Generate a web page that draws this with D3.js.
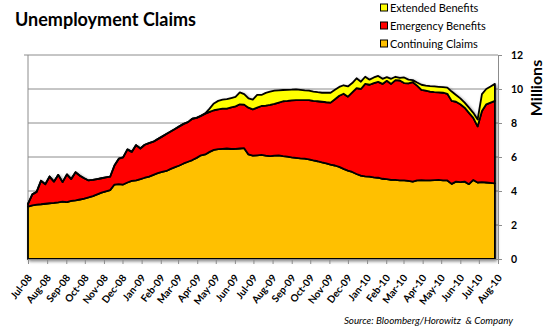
<!DOCTYPE html>
<html>
<head>
<meta charset="utf-8">
<script src="https://cdn.jsdelivr.net/npm/d3@7"></script>
<style>
  html, body { margin: 0; padding: 0; background: #fff; }
  svg { display: block; }
</style>
</head>
<body>
<svg id="chart" width="549" height="336"></svg>
<script>
// ---- Data (millions, weekly from Jul-2008) ----
const startDate = "2008-07-01";
const monthLabels = ["Jul-08","Aug-08","Sep-08","Oct-08","Nov-08","Dec-08","Jan-09","Feb-09","Mar-09","Apr-09","May-09","Jun-09","Jul-09","Aug-09","Sep-09","Oct-09","Nov-09","Dec-09","Jan-10","Feb-10","Mar-10","Apr-10","May-10","Jun-10","Jul-10","Aug-10"];
const yTicks = [0, 2, 4, 6, 8, 10, 12];
const seriesNames = ["Continuing Claims", "Emergency Benefits", "Extended Benefits"];
const seriesColors = ["#FFC000", "#FF0000", "#FFFF00"];

const continuing = [3.08,3.15,3.2,3.22,3.25,3.28,3.3,3.33,3.38,3.35,3.42,3.45,3.5,3.55,3.62,3.7,3.8,3.9,3.98,4.05,
  4.38,4.4,4.38,4.5,4.6,4.62,4.7,4.78,4.85,4.95,5.05,5.12,5.18,5.3,5.4,5.5,5.62,5.72,5.82,5.95,
  6.1,6.15,6.3,6.42,6.46,6.48,6.5,6.47,6.48,6.5,6.52,6.15,6.08,6.1,6.12,6.08,6.05,6.08,6.1,6.05,
  6.02,5.98,5.95,5.92,5.9,5.86,5.8,5.75,5.68,5.62,5.55,5.5,5.42,5.3,5.2,5.12,5.0,4.9,4.86,4.84,
  4.8,4.78,4.72,4.7,4.66,4.65,4.63,4.62,4.6,4.55,4.62,4.64,4.63,4.62,4.64,4.65,4.63,4.62,4.42,4.55,
  4.52,4.55,4.4,4.65,4.5,4.52,4.5,4.48,4.45];

const emergency = [0.16,0.65,0.75,1.38,1.15,1.57,1.25,1.62,1.14,1.63,1.28,1.65,1.4,1.2,1.0,0.95,0.9,0.85,0.82,0.79,
  1.12,1.5,1.6,1.95,1.7,2.08,1.8,1.94,1.97,1.95,2.0,2.08,2.17,2.2,2.25,2.3,2.33,2.33,2.43,2.35,
  2.32,2.4,2.35,2.33,2.34,2.37,2.35,2.45,2.5,2.6,2.56,2.75,2.72,2.8,2.88,2.94,3.01,3.04,3.1,3.23,
  3.28,3.35,3.4,3.43,3.45,3.49,3.5,3.53,3.57,3.6,3.65,3.9,4.18,4.42,4.35,4.68,5.05,5.1,5.44,5.41,
  5.55,5.64,5.58,5.78,5.64,5.87,5.87,5.73,5.73,5.85,5.58,5.31,5.27,5.23,5.18,5.15,5.15,5.1,4.88,4.7,
  4.58,4.35,4.2,3.65,3.3,4.18,4.6,4.72,4.85];

const extended = [0,0,0,0,0,0,0,0,0,0,0,0,0,0,0,0,0,0,0,0,
  0,0,0,0,0,0,0,0,0,0,0,0,0,0,0,0,0,0,0,0,
  0,0.02,0.2,0.4,0.5,0.52,0.55,0.55,0.55,0.7,0.62,0.55,0.58,0.75,0.65,0.75,0.78,0.78,0.72,0.66,
  0.65,0.63,0.63,0.6,0.57,0.55,0.55,0.53,0.53,0.56,0.58,0.55,0.52,0.5,0.6,0.55,0.58,0.43,0.42,0.3,
  0.33,0.35,0.3,0.22,0.3,0.2,0.15,0.33,0.22,0.12,0.18,0.3,0.3,0.32,0.33,0.33,0.33,0.36,0.55,0.4,
  0.35,0.3,0.3,0.3,0.4,1.0,0.9,0.95,1.0];

// ---- Build table ----
const parse = d3.timeParse("%Y-%m-%d");
const start = parse(startDate);
const rows = continuing.map((c, i) => ({
  date: d3.timeDay.offset(start, 7 * i),
  c: c, e: emergency[i], x: extended[i]
}));

const svg = d3.select("#chart");
const font = "Lato, 'Open Sans', sans-serif";

const plot = { left: 28, right: 498, top: 55, bottom: 259 };
const x = d3.scaleTime()
  .domain([parse("2008-07-01"), parse("2010-08-01")])
  .range([plot.left, plot.right]);
const y = d3.scaleLinear().domain([0, 12]).range([plot.bottom, plot.top]);

// defs: shadow
const defs = svg.append("defs");
const f = defs.append("filter").attr("id", "shadow")
  .attr("x", "-5%").attr("y", "-10%").attr("width", "110%").attr("height", "120%");
f.append("feDropShadow").attr("dx", 1.5).attr("dy", 1.5).attr("stdDeviation", 1.8)
  .attr("flood-color", "#000").attr("flood-opacity", 0.45);

// gridlines
svg.append("g").selectAll("line").data(yTicks.filter(t => t > 0)).join("line")
  .attr("x1", plot.left).attr("x2", plot.right)
  .attr("y1", d => y(d)).attr("y2", d => y(d))
  .attr("stroke", "#8c8c8c").attr("stroke-width", 1);

// left border
svg.append("line").attr("x1", plot.left).attr("x2", plot.left)
  .attr("y1", plot.top).attr("y2", plot.bottom)
  .attr("stroke", "#8c8c8c").attr("stroke-width", 1);
svg.append("line").attr("x1", plot.left - 4).attr("x2", plot.left)
  .attr("y1", plot.top).attr("y2", plot.top)
  .attr("stroke", "#8c8c8c").attr("stroke-width", 1);

// stack
const stack = d3.stack().keys(["c", "e", "x"]);
const layers = stack(rows);
const area = d3.area()
  .x(d => x(d.data.date))
  .y0(d => y(d[0]))
  .y1(d => y(d[1]));

const g = svg.append("g").attr("filter", "url(#shadow)");
g.selectAll("path").data(layers).join("path")
  .attr("d", area)
  .attr("fill", (d, i) => seriesColors[i])
  .attr("stroke", "#000")
  .attr("stroke-width", 1.8)
  .attr("stroke-linejoin", "round");

// x axis
const monthTicks = d3.timeMonth.range(parse("2008-07-01"), parse("2010-08-02"));
const xAxis = d3.axisBottom(x)
  .tickValues(monthTicks)
  .tickSize(5)
  .tickFormat((d, i) => monthLabels[i]);
const gx = svg.append("g").attr("transform", `translate(0,${plot.bottom})`).call(xAxis);
gx.select(".domain").attr("stroke", "#8c8c8c");
gx.selectAll(".tick line").attr("stroke", "#8c8c8c");
gx.selectAll(".tick text")
  .attr("font-family", font).attr("font-size", 10).attr("font-weight", "bold").attr("fill", "#000")
  .attr("text-anchor", "end")
  .attr("x", 0).attr("y", 0).attr("dy", 0)
  .attr("transform", "translate(4,19) rotate(-52)");

// right axis
const yAxis = d3.axisRight(y).tickValues(yTicks).tickSize(4).tickPadding(9);
const gy = svg.append("g").attr("transform", `translate(${plot.right},0)`).call(yAxis);
gy.select(".domain").attr("stroke", "#8c8c8c");
gy.selectAll(".tick line").attr("stroke", "#8c8c8c");
gy.selectAll(".tick text")
  .attr("font-family", font).attr("font-size", 10.5).attr("font-weight", "bold").attr("fill", "#000");

// Millions label
svg.append("text")
  .attr("transform", "translate(542,88) rotate(-90)")
  .attr("text-anchor", "middle")
  .attr("font-family", font).attr("font-size", 16).attr("font-weight", "bold")
  .text("Millions");

// title
svg.append("text").attr("x", 15).attr("y", 26)
  .attr("font-family", font).attr("font-size", 18).attr("font-weight", "bold")
  .text("Unemployment Claims");

// legend
const legendOrder = [2, 1, 0];
const lg = svg.append("g");
legendOrder.forEach((si, k) => {
  const cy = 7.5 + k * 18;
  lg.append("rect").attr("x", 380.5).attr("y", cy - 3.5).attr("width", 7).attr("height", 7)
    .attr("fill", seriesColors[si]).attr("stroke", "#000").attr("stroke-width", 1);
  lg.append("text").attr("x", 390).attr("y", cy + 4)
    .attr("font-family", font).attr("font-size", 11).attr("fill", "#000")
    .text(seriesNames[si]);
});

// source
svg.append("text").attr("x", 513).attr("y", 324).attr("text-anchor", "end")
  .attr("font-family", font).attr("font-size", 9.8).attr("font-style", "italic")
  .attr("xml:space", "preserve")
  .text("Source: Bloomberg/Horowitz  & Company");
</script>
</body>
</html>
